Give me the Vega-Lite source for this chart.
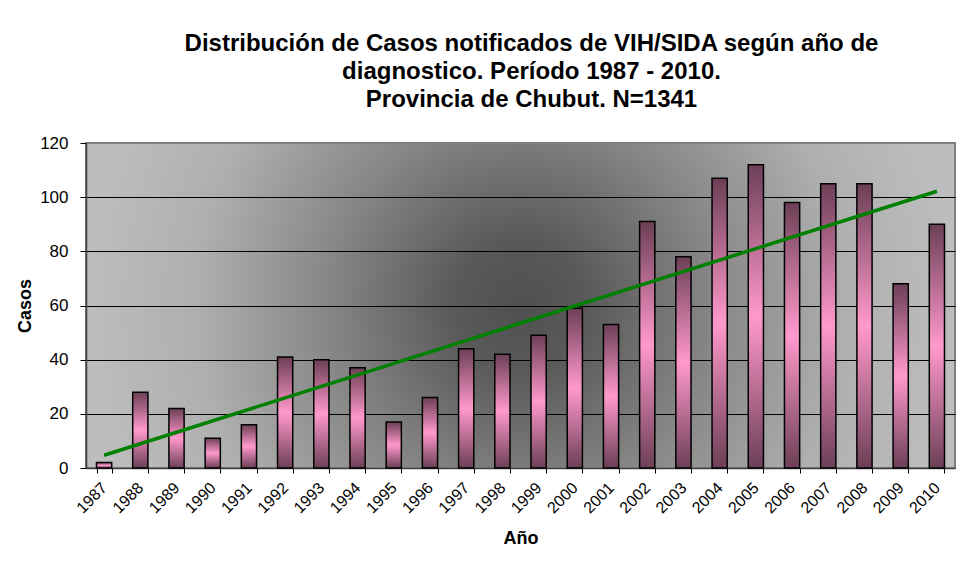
{
  "$schema": "https://vega.github.io/schema/vega-lite/v6.json",
  "width": 869,
  "height": 325,
  "autosize": {"type": "none"},
  "padding": {"left": 86, "top": 143, "right": 12, "bottom": 113},
  "background": "white",
  "title": {
    "text": ["Distribución de Casos notificados de VIH/SIDA según año de", "diagnostico. Período 1987 - 2010.", "Provincia de Chubut. N=1341"],
    "font": "Liberation Sans",
    "fontSize": 24,
    "fontWeight": "bold",
    "lineHeight": 28,
    "color": "black",
    "anchor": "middle",
    "frame": "group",
    "dx": 11,
    "offset": 22
  },
  "config": {
    "font": "Liberation Sans",
    "view": {
      "stroke": "#808080",
      "strokeWidth": 2,
      "fill": {
        "gradient": "radial",
        "x1": 0.5, "y1": 0.5, "r1": 0,
        "x2": 0.5, "y2": 0.5, "r2": 0.5,
        "stops": [
          {"offset": 0, "color": "#505050"},
          {"offset": 0.15, "color": "#595959"},
          {"offset": 0.45, "color": "#878787"},
          {"offset": 0.75, "color": "#afafaf"},
          {"offset": 1, "color": "#bdbdbd"}
        ]
      }
    },
    "axis": {"labelFont": "Liberation Sans", "titleFont": "Liberation Sans", "labelColor": "black", "titleColor": "black"}
  },
  "datasets": {
    "casos": [
      {"year": 1987, "casos": 2},
      {"year": 1988, "casos": 28},
      {"year": 1989, "casos": 22},
      {"year": 1990, "casos": 11},
      {"year": 1991, "casos": 16},
      {"year": 1992, "casos": 41},
      {"year": 1993, "casos": 40},
      {"year": 1994, "casos": 37},
      {"year": 1995, "casos": 17},
      {"year": 1996, "casos": 26},
      {"year": 1997, "casos": 44},
      {"year": 1998, "casos": 42},
      {"year": 1999, "casos": 49},
      {"year": 2000, "casos": 59},
      {"year": 2001, "casos": 53},
      {"year": 2002, "casos": 91},
      {"year": 2003, "casos": 78},
      {"year": 2004, "casos": 107},
      {"year": 2005, "casos": 112},
      {"year": 2006, "casos": 98},
      {"year": 2007, "casos": 105},
      {"year": 2008, "casos": 105},
      {"year": 2009, "casos": 68},
      {"year": 2010, "casos": 90}
    ],
    "trend": [
      {"year": 1987, "casos": 4.7},
      {"year": 2010, "casos": 102.2}
    ]
  },
  "encoding": {
    "x": {
      "field": "year",
      "type": "ordinal",
      "scale": {"paddingInner": 0.58, "paddingOuter": 0.29},
      "axis": {
        "title": "Año",
        "titleFontSize": 18,
        "titleFontWeight": "bold",
        "titlePadding": 14,
        "labelFontSize": 16,
        "labelAngle": -45,
        "labelAlign": "right",
        "labelBaseline": "middle",
        "labelPadding": 12,
        "tickBand": "extent",
        "tickSize": 5,
        "tickColor": "black",
        "domainColor": "#404040",
        "domainWidth": 1.5,
        "grid": false
      }
    },
    "y": {
      "field": "casos",
      "type": "quantitative",
      "scale": {"domain": [0, 120], "nice": false},
      "axis": {
        "title": "Casos",
        "titleFontSize": 18,
        "titleFontWeight": "bold",
        "titlePadding": 5,
        "values": [0, 20, 40, 60, 80, 100, 120],
        "labelFontSize": 17,
        "labelPadding": 12,
        "tickSize": 6,
        "tickColor": "black",
        "domainColor": "#404040",
        "domainWidth": 1.5,
        "grid": true,
        "gridColor": {"condition": {"test": "datum.value === 120 || datum.value === 0", "value": "#808080"}, "value": "black"},
        "gridWidth": 1,
        "gridOpacity": 1
      }
    }
  },
  "layer": [
    {
      "data": {"name": "casos"},
      "mark": {
        "type": "bar",
        "stroke": "black",
        "strokeWidth": 1.5,
        "color": {
          "gradient": "linear",
          "x1": 0, "y1": 0, "x2": 0, "y2": 1,
          "stops": [
            {"offset": 0, "color": "#6c3f56"},
            {"offset": 0.5, "color": "#ff99cc"},
            {"offset": 1, "color": "#6c3f56"}
          ]
        }
      }
    },
    {
      "data": {"name": "trend"},
      "mark": {"type": "line", "color": "#008000", "strokeWidth": 3.5}
    }
  ]
}
